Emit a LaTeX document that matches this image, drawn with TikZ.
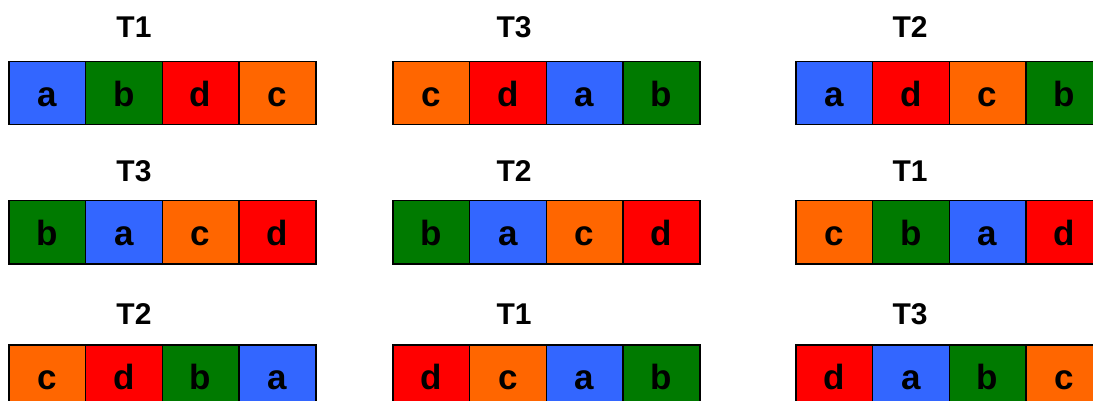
\documentclass[tikz,border=0pt]{standalone}
\usepackage{fontspec}
\setmainfont{Liberation Sans}
\usetikzlibrary{calc}
% one fill colour per letter
\definecolor{ca}{HTML}{3366FF}
\definecolor{cb}{HTML}{007A00}
\definecolor{cc}{HTML}{FF6600}
\definecolor{cd}{HTML}{FF0000}
\tikzset{
  cell/.style={draw=black, line width=1.5pt, anchor=north west,
    minimum width=76.75pt, minimum height=63pt, inner sep=0pt,
    text height=27pt, text depth=0pt,
    font=\fontsize{35}{35}\selectfont\bfseries},
  tlabel/.style={anchor=base, inner sep=0pt,
    font=\fontsize{30}{30}\selectfont\bfseries},
}
\begin{document}
\begin{tikzpicture}[x=1pt,y=-1pt]
\useasboundingbox (0,0) rectangle (1093,401);
\clip (0,0) rectangle (1093,401);
% row tops and group left edges
\foreach \r/\top in {1/61, 2/200, 3/344}{
  \foreach \g/\left in {1/8, 2/392, 3/795}{
    \coordinate (o-\r-\g) at (\left,\top);
  }
}
% titles of the lists
\foreach \r/\base/\la/\lb/\lc in {1/38/T1/T3/T2, 2/182/T3/T2/T1, 3/324/T2/T1/T3}{
  \node[tlabel] (t-\r-1) at (134,\base) {\la};
  \node[tlabel] (t-\r-2) at (514,\base) {\lb};
  \node[tlabel] (t-\r-3) at (910,\base) {\lc};
}
% cells: letter sequence of each list
\foreach \r/\g/\seq in {
  1/1/{a,b,d,c}, 1/2/{c,d,a,b}, 1/3/{a,d,c,b},
  2/1/{b,a,c,d}, 2/2/{b,a,c,d}, 2/3/{c,b,a,d},
  3/1/{c,d,b,a}, 3/2/{d,c,a,b}, 3/3/{d,a,b,c}}{
  \foreach \s [count=\i from 0] in \seq {
    \node[cell, fill=c\s] (c-\r-\g-\i) at ($(o-\r-\g)+(\i*76.75,0)$) {\s\hspace{14pt}};
  }
}
\end{tikzpicture}
\end{document}
